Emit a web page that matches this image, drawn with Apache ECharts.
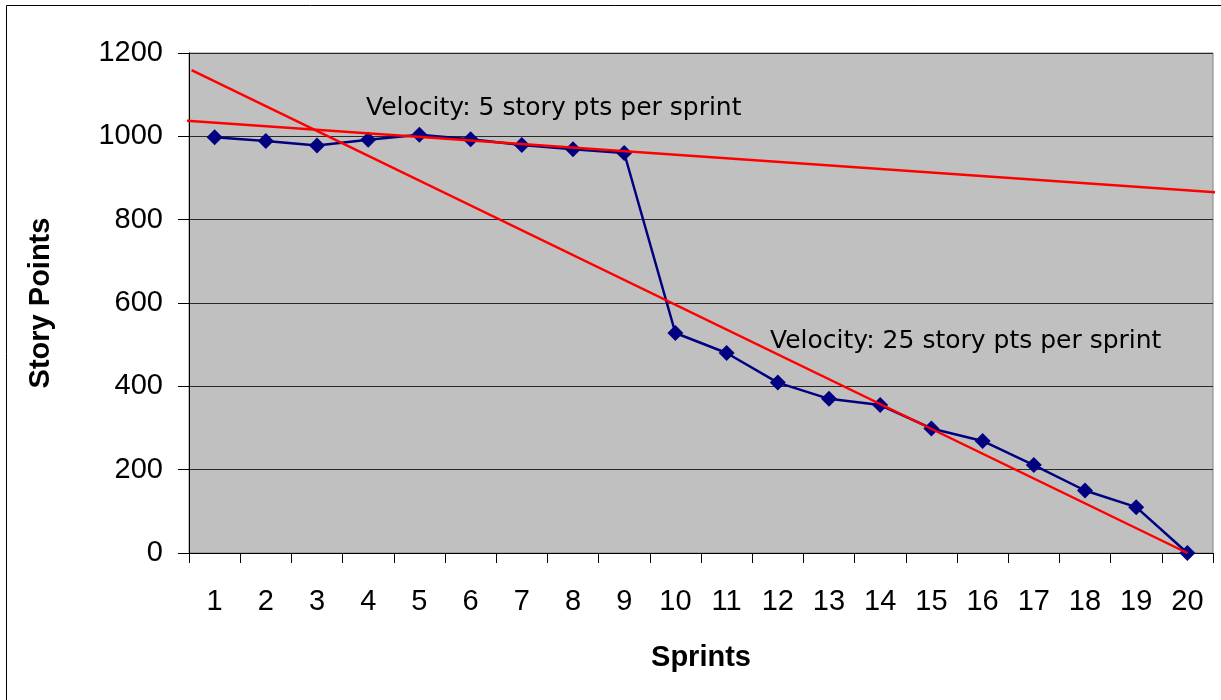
<!DOCTYPE html>
<html>
<head>
<meta charset="utf-8">
<script src="https://cdn.jsdelivr.net/npm/echarts@6/dist/echarts.min.js"></script>
<style>
  html, body { margin: 0; padding: 0; background: #fff; }
  #chart { width: 1221px; height: 700px; }
</style>
</head>
<body>
<div id="chart"></div>
<script>
// burndown data
const sprints = ['1', '2', '3', '4', '5', '6', '7', '8', '9', '10',
  '11', '12', '13', '14', '15', '16', '17', '18', '19', '20']
const storyPoints = [998, 989, 978, 992, 1004, 993, 979, 969, 960, 528,
  480, 409, 370, 355, 299, 269, 211, 150, 110, 0]
const yTicks = [0, 200, 400, 600, 800, 1000, 1200]

// hand drawn velocity lines, [sprint, points]
const slowLine = [[0.3, 1039], [20.66, 865]]
const fastLine = [[0.55, 1159], [20, 0]]

const labelFont = 'Liberation Sans, Arial, sans-serif'
const noteFont = 'DejaVu Sans, Tahoma, sans-serif'

const chart = echarts.init(document.getElementById('chart'))

const option = {
  animation: false,
  backgroundColor: '#fff',
  grid: {
    left: 189,
    top: 53,
    right: 8,
    bottom: 147,
    show: true,
    backgroundColor: '#c0c0c0',
    borderColor: '#808080',
    borderWidth: 1,
  },
  xAxis: [
    {
      type: 'category',
      data: sprints,
      boundaryGap: true,
      name: 'Sprints',
      nameLocation: 'middle',
      nameGap: 90,
      nameTextStyle: { fontFamily: labelFont, fontSize: 29, fontWeight: 'bold', color: '#000' },
      axisLine: { lineStyle: { color: '#000', width: 1 } },
      axisTick: { show: true, length: 10, lineStyle: { color: '#000' } },
      axisLabel: { fontFamily: labelFont, fontSize: 29, color: '#000', margin: 34, interval: 0 },
      splitLine: { show: false },
    },
    {
      type: 'value',
      show: false,
      min: 0.5,
      max: 20.5,
      splitLine: { show: false },
    },
  ],
  yAxis: {
    type: 'value',
    min: yTicks[0],
    max: yTicks[yTicks.length - 1],
    interval: 200,
    name: 'Story Points',
    nameLocation: 'middle',
    nameGap: 134,
    nameRotate: 90,
    nameTextStyle: { fontFamily: labelFont, fontSize: 29, fontWeight: 'bold', color: '#000' },
    axisLine: { show: true, lineStyle: { color: '#000', width: 1 } },
    axisTick: { show: true, length: 11, lineStyle: { color: '#000' } },
    axisLabel: {
      fontFamily: labelFont, fontSize: 29, color: '#000', margin: 26,
      formatter: (v) => String(v),
    },
    splitLine: { show: true, lineStyle: { color: '#2a2a2a', width: 1 } },
  },
  series: [
    {
      name: 'Story Points',
      type: 'line',
      data: storyPoints,
      symbol: 'diamond',
      symbolSize: 16,
      itemStyle: { color: '#000080' },
      lineStyle: { color: '#000080', width: 2.5 },
      z: 3,
    },
    {
      name: 'slow',
      type: 'line',
      xAxisIndex: 1,
      data: slowLine,
      clip: false,
      showSymbol: false,
      symbol: 'none',
      lineStyle: { color: '#ff0000', width: 2.5 },
      z: 4,
    },
    {
      name: 'fast',
      type: 'line',
      xAxisIndex: 1,
      data: fastLine,
      clip: false,
      showSymbol: false,
      symbol: 'none',
      lineStyle: { color: '#ff0000', width: 2.5 },
      z: 4,
    },
  ],
  graphic: [
    {
      type: 'rect',
      shape: { x: 6.5, y: 5.5, width: 1240, height: 720 },
      style: { fill: 'none', stroke: '#000', lineWidth: 1 },
      silent: true,
      z: -1,
    },
    {
      type: 'text',
      left: 366,
      top: 96,
      style: { text: 'Velocity: 5 story pts per sprint', font: '25px ' + noteFont, fill: '#000' },
      z: 10,
    },
    {
      type: 'text',
      left: 770,
      top: 329,
      style: { text: 'Velocity: 25 story pts per sprint', font: '25px ' + noteFont, fill: '#000' },
      z: 10,
    },
  ],
}

chart.setOption(option)
</script>
</body>
</html>
